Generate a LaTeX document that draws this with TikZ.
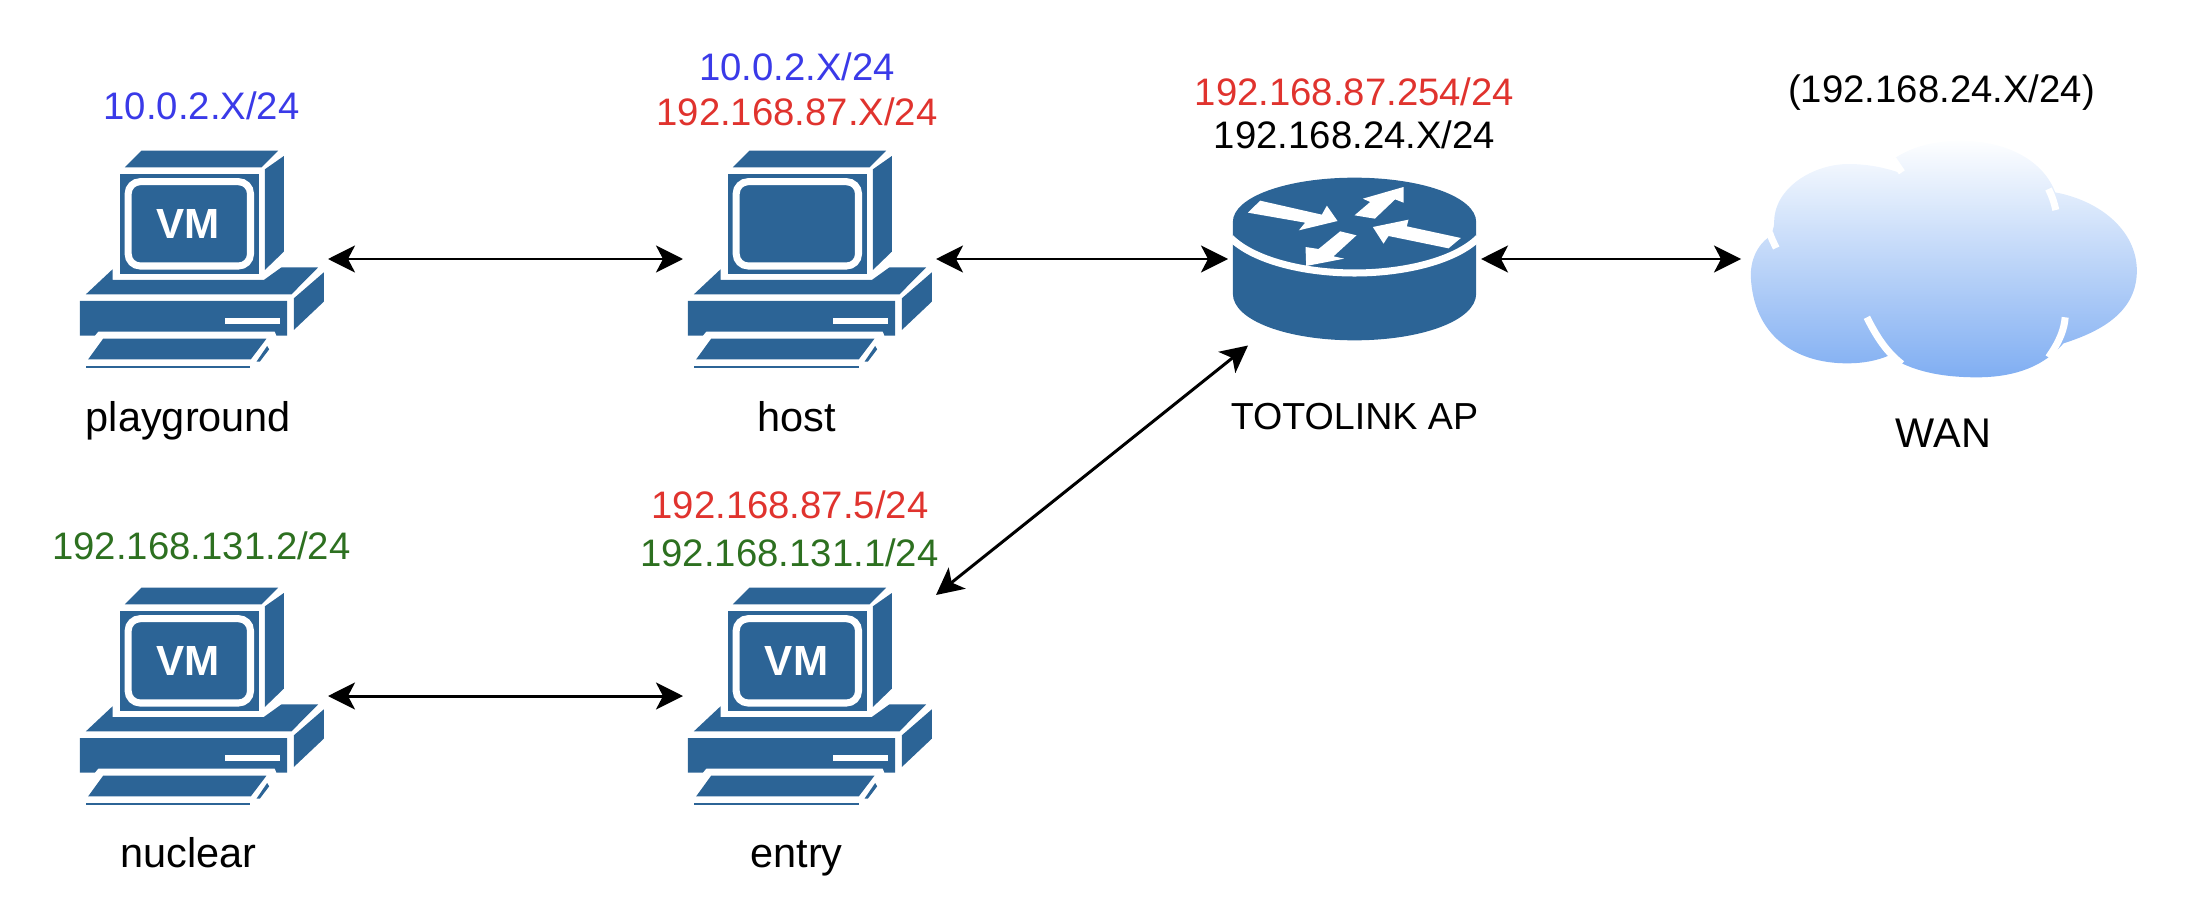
\documentclass[tikz,border=0pt]{standalone}
\usepackage{fontspec}
\setmainfont{Liberation Sans}
\usetikzlibrary{arrows.meta, positioning}
\definecolor{ciscoblue}{HTML}{2C6496}
\definecolor{lanblue}{HTML}{3A3AE8}
\definecolor{lanred}{HTML}{E0332E}
\definecolor{langreen}{HTML}{2D7020}
\definecolor{cloudtop}{HTML}{FDFEFF}
\definecolor{cloudbottom}{HTML}{80AEF2}

\tikzset{
  pics/computer/.style = {code = {
    \begin{scope}[-, x = 1cm/300, y = -1cm/300, shift = {(-425,-387)}]
      \fill[ciscoblue] (195,112) -- (245,62) -- (655,62) -- (605,112) -- cycle;
      \fill[ciscoblue] (615,118) -- (672,78) -- (672,365) -- (615,420) -- cycle;
      \fill[ciscoblue] (180,133) rectangle (597,432);
      \draw[white, line width = 2pt, rounded corners = 0.12cm] (205,155) rectangle (572,408);
      \fill[ciscoblue] (78,493) -- (158,418) -- (158,450) -- (612,450) -- (665,412)
        -- (775,412) -- (695,493) -- cycle;
      \fill[ciscoblue] (60,513) -- (682,513) -- (682,617) -- (650,617) -- (645,605)
        -- (115,605) -- (105,617) -- (60,617) -- cycle;
      \fill[white] (495,563) rectangle (660,583);
      \fill[ciscoblue] (702,505) -- (792,427) -- (792,515) -- (702,600) -- cycle;
      \fill[ciscoblue] (85,688) -- (130,626) -- (620,626) -- (573,688) -- cycle;
      \fill[ciscoblue] (590,695) -- (622,648) -- (628,658) -- (600,695) -- cycle;
      \fill[ciscoblue] (78,707) rectangle (572,714);
    \end{scope}
  }},
  pics/routerdisk/.style = {code = {
    \begin{scope}[-, x = 1cm/300, y = -1cm/300, shift = {(-433,-266)}]
      \fill[ciscoblue] (68,155) .. controls (68,80) and (230,22) .. (433,22)
        .. controls (636,22) and (798,80) .. (798,155) -- (798,370)
        .. controls (798,450) and (636,510) .. (433,510)
        .. controls (230,510) and (68,450) .. (68,370) -- cycle;
      \draw[white, line width = 2pt] (62,203) .. controls (130,270) and (280,308) .. (433,308)
        .. controls (586,308) and (736,270) .. (804,203);
      \fill[white] (113,127) -- (150,91) -- (335,133) -- (350,106) -- (382,152)
        -- (266,180) -- (285,157) -- cycle;
      \fill[white] (433,135) -- (480,95) -- (458,85) -- (580,50) -- (580,97)
        -- (555,87) -- (494,145) -- cycle;
      \fill[white] (752,203) -- (590,168) -- (595,148) -- (488,170) -- (520,220)
        -- (535,197) -- (715,234) -- cycle;
      \fill[white] (390,183) -- (325,236) -- (286,230) -- (288,287) -- (402,265)
        -- (370,258) -- (439,195) -- cycle;
    \end{scope}
  }},
  pics/wancloud/.style = {code = {
    \begin{scope}[-, x = 1cm/300, y = -1cm/300, shift = {(-670,-415)}]
      \shade[top color = cloudtop, bottom color = cloudbottom]
        (92,470) .. controls (90,420) and (110,375) .. (145,350)
        .. controls (155,340) and (162,325) .. (162,300)
        .. controls (165,200) and (280,130) .. (385,130)
        .. controls (440,130) and (490,140) .. (535,155) -- (520,115)
        .. controls (570,80) and (640,60) .. (720,60)
        .. controls (860,60) and (970,120) .. (1005,215)
        .. controls (1140,240) and (1250,330) .. (1250,450)
        .. controls (1250,570) and (1150,630) .. (1030,668)
        .. controls (960,750) and (860,770) .. (770,770)
        .. controls (660,770) and (570,750) .. (505,705)
        .. controls (470,720) and (430,728) .. (380,728)
        .. controls (220,728) and (100,640) .. (92,470) -- cycle;
      \draw[white, line width = 2pt] (168,382) .. controls (160,365) and (152,350) .. (148,335);
      \draw[white, line width = 2pt] (518,115) -- (545,155);
      \draw[white, line width = 2pt] (1007,268) .. controls (1002,245) and (995,225) .. (985,205);
      \draw[white, line width = 2pt] (440,590) .. controls (470,650) and (500,695) .. (545,730);
      \draw[white, line width = 2pt] (1035,590) .. controls (1032,625) and (1020,660) .. (985,710);
    \end{scope}
  }}
}

\begin{document}
\begin{tikzpicture} [%
    <->,
    >= { Stealth[length=2.7mm, width=2.7mm, inset=0.7mm] },
    line width = 0.85pt,
    on grid,
    pcbox/.style = {minimum width = 2.43cm, minimum height = 2.18cm, outer sep = 0.05cm, inner sep = 0pt},
    routerbox/.style = {minimum width = 2.43cm, minimum height = 1.63cm, outer sep = 0.05cm, inner sep = 0pt},
    cloudbox/.style = {minimum width = 3.87cm, minimum height = 2.37cm, outer sep = 0.09cm, inner sep = 0pt},
    netlabel/.style = {font = \fontsize{10.9}{13}\selectfont, text = black, inner sep = 0pt},
    namelabel/.style = {font = \fontsize{11.8}{14}\selectfont, text height = 0.3cm, text depth = 0.08cm, inner sep = 0pt},
    vmtext/.style = {font = \fontsize{12}{14}\selectfont\bfseries, text = white, inner sep = 0pt}
  ]

  \useasboundingbox (-2.015,-6.59) rectangle (19.845,2.59);

  \node[pcbox] (playground) {};
  \node[pcbox] (host) [right=6.08cm of playground] {};
  \node[routerbox] (router) [right=5.45cm of host] {};
  \node[cloudbox] (wan) [right=5.89cm of router] {};
  \node[pcbox] (nuclear) [below=4.37cm of playground] {};
  \node[pcbox] (entry) [below=4.37cm of host] {};

  \pic at (playground) {computer};
  \pic at (host) {computer};
  \pic at (nuclear) {computer};
  \pic at (entry) {computer};
  \pic at (router) {routerdisk};
  \pic at (wan) {wancloud};

  \node[vmtext] (playgroundvm) [above left=0.35cm and 0.13cm of playground] {VM};
  \node[vmtext] (nuclearvm) [above left=0.35cm and 0.13cm of nuclear] {VM};
  \node[vmtext] (entryvm) [above left=0.35cm and 0.13cm of entry] {VM};

  \node[namelabel] (playgroundname) [below left=1.61cm and 0.13cm of playground] {playground};
  \node[namelabel] (hostname) [below left=1.61cm and 0.13cm of host] {host};
  \node[namelabel] (nuclearname) [below left=1.60cm and 0.13cm of nuclear] {nuclear};
  \node[namelabel] (entryname) [below left=1.60cm and 0.13cm of entry] {entry};
  \node[namelabel, font=\fontsize{10.7}{13}\selectfont] (routername) [below=1.59cm of router] {TOTOLINK AP};
  \node[namelabel] (wanname) [below=1.77cm of wan] {WAN};

  \node[netlabel, text=lanblue] (playgroundip) [above=1.53cm of playground] {10.0.2.X/24};
  \node[netlabel, text=lanblue] (hostipa) [above left=1.92cm and 0.125cm of host] {10.0.2.X/24};
  \node[netlabel, text=lanred] (hostipb) [above left=1.47cm and 0.125cm of host] {192.168.87.X/24};
  \node[netlabel, text=lanred] (routeripa) [above=1.67cm of router] {192.168.87.254/24};
  \node[netlabel] (routeripb) [above=1.24cm of router] {192.168.24.X/24};
  \node[netlabel] (wanip) [above left=1.66cm and 0.02cm of wan] {(192.168.24.X/24)};
  \node[netlabel, text=langreen] (nuclearip) [above=1.50cm of nuclear] {192.168.131.2/24};
  \node[netlabel, text=lanred] (entryipa) [above left=1.91cm and 0.195cm of entry] {192.168.87.5/24};
  \node[netlabel, text=langreen] (entryipb) [above left=1.43cm and 0.20cm of entry] {192.168.131.1/24};

  \coordinate (entryport) at ([yshift=-0.13cm]entry.north east);
  \coordinate (routerport) at ([xshift=0.2cm]router.south west);

  \draw (playground) -- (host);
  \draw (host) -- (router);
  \draw (router) -- (wan);
  \draw (nuclear) -- (entry);
  \draw (entryport) -- (routerport);

\end{tikzpicture}
\end{document}
